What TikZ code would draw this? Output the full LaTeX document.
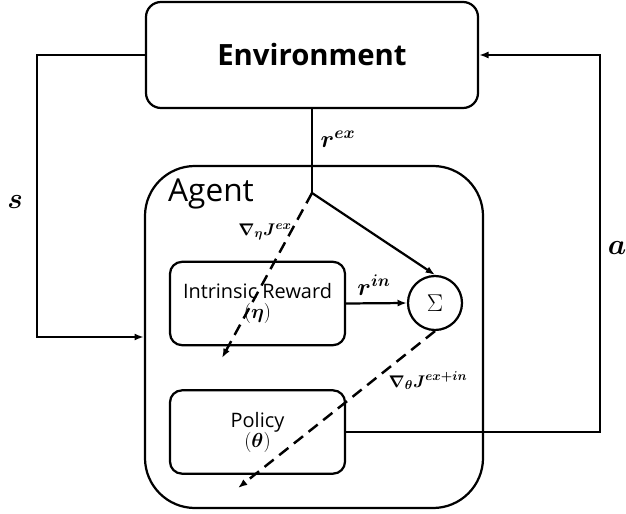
\documentclass[tikz,border=0pt]{standalone}
\usepackage{amsmath}
\usepackage{fontspec}
\setsansfont{Open Sans}
\usetikzlibrary{arrows.meta}

\begin{document}
\begin{tikzpicture}[x=0.03cm, y=-0.03cm, line width=1.9pt,
    box/.style={draw, rounded corners=0.36cm, font=\sffamily\fontsize{17}{20}\selectfont, align=center, minimum width=5.25cm, minimum height=2.5cm},
    arr/.style={-{Latex[length=8pt,width=6pt]}},
    grad/.style={arr, dash pattern=on 10pt off 6pt, line width=2.1pt},
    lab/.style={font=\fontsize{20}{24}\selectfont}]
    \useasboundingbox (0,0) rectangle (626,514);
    % Umgebung und Agent:
    \node[draw, rounded corners=0.45cm, minimum width=9.96cm, minimum height=3.18cm, font=\sffamily\bfseries\fontsize{25}{30}\selectfont] (env) at (312,55) {Environment};
    \node[draw, rounded corners=1.5cm, minimum width=10.14cm, minimum height=10.26cm] (agent) at (314,337) {};
    \node[font=\sffamily\fontsize{27}{32}\selectfont] (agentlabel) at (211,194) {Agent};
    % innere Kaesten:
    \node[box] (reward) at (257.5,303.5) {Intrinsic Reward\\[-3pt]$(\boldsymbol{\eta})$};
    \node[box] (policy) at (257.5,432) {Policy\\[-3pt]$(\boldsymbol{\theta})$};
    \node[draw, circle, minimum size=1.62cm, inner sep=0pt, font=\fontsize{22}{26}\selectfont] (sum) at (435,303) {$\Sigma$};
    \coordinate (split) at (312,193);
    \coordinate (etaend) at (222,358);
    \coordinate (thetaend) at (238,488);
    % Pfeile:
    \draw (env.south) -- (split);
    \draw[arr] (split) -- (sum.north);
    \draw[arr] (reward.east) -- (sum.west);
    \draw[arr] (env.west) -- ++(-108,0) |- (agent.west);
    \draw[arr] (policy.east) -- ++(254,0) |- (env.east);
    \draw[grad] (split) -- (etaend);
    \draw[grad] (sum.south) -- (thetaend);
    % Beschriftungen:
    \node[lab] (rex) at (338,139) {$\boldsymbol{r^{ex}}$};
    \node[lab] (rin) at (374,285) {$\boldsymbol{r^{in}}$};
    \node[font=\fontsize{27}{30}\selectfont] (s) at (15,202) {$\boldsymbol{s}$};
    \node[font=\fontsize{27}{30}\selectfont] (a) at (617,248) {$\boldsymbol{a}$};
    \node[font=\fontsize{15.5}{18}\selectfont] (geta) at (265,232) {$\boldsymbol{\nabla_\eta J^{ex}}$};
    \node[font=\fontsize{15.5}{18}\selectfont] (gtheta) at (428,381) {$\boldsymbol{\nabla_\theta J^{ex+in}}$};
\end{tikzpicture}
\end{document}
